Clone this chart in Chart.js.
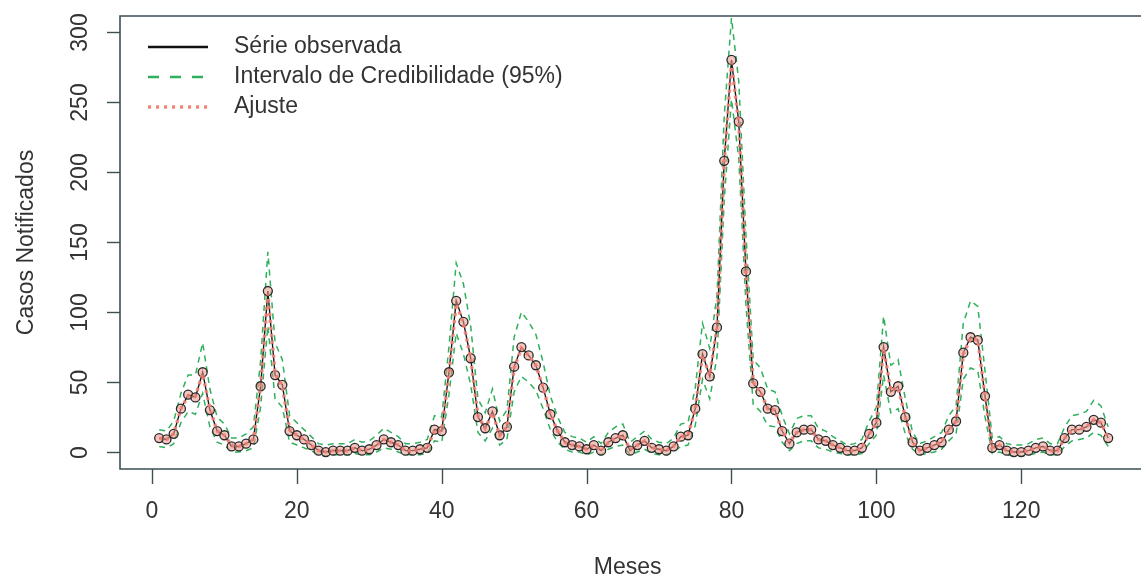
<!DOCTYPE html>
<html>
<head>
<meta charset="utf-8">
<script src="https://cdn.jsdelivr.net/npm/chart.js@4.4.1/dist/chart.umd.min.js"></script>
<style>
  html, body { margin: 0; padding: 0; background: #fff; }
</style>
</head>
<body>
<canvas id="casosChart" width="1141" height="581"></canvas>
<script>
// meses 1..132
const meses = [1,2,3,4,5,6,7,8,9,10,11,12,13,14,15,16,17,18,19,20,21,22,23,24,25,26,27,28,29,30,
  31,32,33,34,35,36,37,38,39,40,41,42,43,44,45,46,47,48,49,50,51,52,53,54,55,56,57,58,59,60,
  61,62,63,64,65,66,67,68,69,70,71,72,73,74,75,76,77,78,79,80,81,82,83,84,85,86,87,88,89,90,
  91,92,93,94,95,96,97,98,99,100,101,102,103,104,105,106,107,108,109,110,111,112,113,114,115,
  116,117,118,119,120,121,122,123,124,125,126,127,128,129,130,131,132];

// série observada (casos notificados)
const observada = [10,9,13,31,41,39,57,30,15,12, 4,4,6,9,47,115,55,48,15,12,
  9,5,1,0,1,1,1,3,1,2, 5,9,7,5,1,1,2,3,16,15, 57,108,93,67,25,17,29,12,18,61,
  75,69,62,46,27,15,7,5,4,2, 5,1,7,10,12,1,5,8,3,2, 1,4,11,12,31,70,54,89,208,280,
  236,129,49,43,31,30,15,6,14,16, 16,9,8,5,3,1,1,3,13,21, 75,43,47,25,7,1,3,5,7,16,
  22,71,82,80,40,3,5,1,0,0, 1,3,4,1,1,10,16,16,18,23,21,10];

// ajuste do modelo
const ajuste = [10,9,13,31,40,40,56,31,15,12, 5,4,6,9,47,113,56,47,16,12,
  9,5,1,0,1,1,1,3,1,2, 5,9,7,5,1,1,2,3,15,15, 56,106,92,67,26,17,28,12,18,60,
  74,69,62,46,27,15,7,5,4,2, 5,1,7,10,12,2,5,8,3,2, 1,4,11,12,31,69,55,89,207,278,
  235,129,50,43,31,30,15,7,14,16, 16,9,8,5,3,1,1,3,13,21, 74,44,46,25,7,1,3,5,7,16,
  22,70,81,80,40,3,5,1,0,0, 1,3,4,1,1,10,16,16,18,23,21,10];

// intervalo de credibilidade 95% (limite superior / inferior)
const icSuperior = [16,15,22,42,55,55,78,45,25,20, 10,10,13,18,65,143,78,66,26,21,
  16,11,6,5,6,6,6,9,7,8, 12,17,14,11,6,6,7,9,26,25, 75,135,120,90,38,28,45,22,30,82,
  100,93,84,64,40,25,14,11,10,7, 11,6,14,18,20,7,11,15,9,7, 6,10,20,21,46,92,74,112,240,310,
  265,155,66,60,45,43,26,13,24,26, 26,17,15,11,8,5,6,9,22,32, 97,62,66,38,14,6,8,11,14,26,
  33,92,108,104,58,10,11,6,5,5, 6,9,10,6,6,18,26,27,29,37,33,18];

const icInferior = [4,3,6,21,29,27,42,18,7,5, 0,0,1,3,32,90,38,32,7,5,
  3,1,-2,-3,-2,-2,-2,-1,-2,-2, 0,3,2,0,-2,-2,-2,-1,8,7, 41,85,70,48,14,8,17,5,9,43,
  54,50,44,31,16,7,2,0,0,-2, 0,-2,2,4,5,-2,0,2,-1,-2, -2,0,4,5,19,52,38,68,180,252,
  210,105,34,29,19,18,7,1,6,8, 8,3,2,0,-1,-2,-2,-1,6,12, 55,28,31,13,2,-2,-1,0,2,8,
  13,52,60,58,25,-1,0,-2,-3,-3, -2,-1,0,-2,-2,4,8,9,10,14,12,4];

const xTicks = [0, 20, 40, 60, 80, 100, 120];
const yTicks = [0, 50, 100, 150, 200, 250, 300];

const legendItems = [
  { text: "Série observada", color: "#111111", dash: [], width: 2.5 },
  { text: "Intervalo de Credibilidade (95%)", color: "#2fb05c", dash: [11, 11], width: 2.5 },
  { text: "Ajuste", color: "#f2877c", dash: [3, 5], width: 3.5 }
];

const FONT = "23px 'Liberation Sans', Arial, sans-serif";
const TEXT = "#333333";

const pts = (vals) => vals.map((v, i) => ({ x: meses[i], y: v }));

// moldura, marcas dos eixos, rótulos do eixo y e legenda no estilo do R
const rStyle = {
  id: "rStyle",
  afterDraw(chart) {
    const { ctx, chartArea: a, scales: { x, y } } = chart;
    const W = chart.width;
    ctx.save();
    ctx.strokeStyle = "#3d4f55";
    ctx.lineWidth = 1.6;
    ctx.beginPath();
    ctx.moveTo(W, a.top); ctx.lineTo(a.left, a.top);
    ctx.lineTo(a.left, a.bottom); ctx.lineTo(W, a.bottom);
    ctx.stroke();

    ctx.lineWidth = 1.4;
    xTicks.forEach((t) => {
      const px = Math.round(x.getPixelForValue(t)) + 0.5;
      ctx.beginPath(); ctx.moveTo(px, a.bottom); ctx.lineTo(px, a.bottom + 15); ctx.stroke();
    });
    ctx.fillStyle = TEXT;
    ctx.font = FONT;
    ctx.textAlign = "center";
    ctx.textBaseline = "middle";
    yTicks.forEach((t) => {
      const py = Math.round(y.getPixelForValue(t)) + 0.5;
      ctx.beginPath(); ctx.moveTo(a.left - 13, py); ctx.lineTo(a.left, py); ctx.stroke();
      ctx.save();
      ctx.translate(a.left - 39, py);
      ctx.rotate(-Math.PI / 2);
      ctx.fillText(String(t), 0, 0);
      ctx.restore();
    });

    // legenda
    ctx.textAlign = "left";
    legendItems.forEach((it, i) => {
      const ly = a.top + 31 + i * 30;
      ctx.save();
      ctx.strokeStyle = it.color;
      ctx.lineWidth = it.width;
      ctx.setLineDash(it.dash);
      ctx.beginPath(); ctx.moveTo(a.left + 28, ly); ctx.lineTo(a.left + 88, ly); ctx.stroke();
      ctx.restore();
      ctx.fillStyle = TEXT;
      ctx.fillText(it.text, a.left + 114, ly);
    });
    ctx.restore();
  }
};

new Chart(document.getElementById("casosChart").getContext("2d"), {
  type: "line",
  data: {
    datasets: [
      {
        label: "Ajuste",
        data: pts(ajuste),
        borderColor: "rgba(242,130,118,0.9)",
        borderWidth: 3.5,
        borderDash: [3, 4],
        pointRadius: 0,
        tension: 0
      },
      {
        label: "Série observada",
        data: pts(observada),
        borderColor: "#1a1a1a",
        borderWidth: 1.4,
        pointRadius: 4.5,
        pointBorderWidth: 1.3,
        pointBorderColor: "#2a2a2a",
        pointBackgroundColor: "rgba(236,150,140,0.55)",
        tension: 0
      },
      {
        label: "IC superior",
        data: pts(icSuperior),
        borderColor: "#2fb05c",
        borderWidth: 1.5,
        borderDash: [6, 5],
        pointRadius: 0,
        tension: 0
      },
      {
        label: "IC inferior",
        data: pts(icInferior),
        borderColor: "#2fb05c",
        borderWidth: 1.5,
        borderDash: [6, 5],
        pointRadius: 0,
        tension: 0
      }
    ]
  },
  options: {
    responsive: false,
    animation: false,
    layout: { padding: { top: 16, right: 0, left: 0, bottom: 0 } },
    plugins: { legend: { display: false }, tooltip: { enabled: false } },
    scales: {
      x: {
        type: "linear",
        min: -4.41,
        max: 135.73,
        afterBuildTicks: (s) => { s.ticks = xTicks.map((v) => ({ value: v })); },
        afterFit: (s) => { s.height = 112; },
        grid: { display: false, drawTicks: false },
        border: { display: false },
        ticks: { padding: 29, color: TEXT, font: { family: "'Liberation Sans', Arial, sans-serif", size: 23 } },
        title: {
          display: true, text: "Meses", color: TEXT,
          font: { family: "'Liberation Sans', Arial, sans-serif", size: 23 },
          padding: { top: 0, bottom: 0 }
        }
      },
      y: {
        min: -12.1,
        max: 311.4,
        afterBuildTicks: (s) => { s.ticks = yTicks.map((v) => ({ value: v })); },
        afterFit: (s) => { s.width = 120; },
        grid: { display: false, drawTicks: false },
        border: { display: false },
        ticks: { display: false },
        title: {
          display: true, text: "Casos Notificados", color: TEXT,
          font: { family: "'Liberation Sans', Arial, sans-serif", size: 23 },
          padding: { top: 13, bottom: 0 }
        }
      }
    }
  },
  plugins: [rStyle]
});
</script>
</body>
</html>
